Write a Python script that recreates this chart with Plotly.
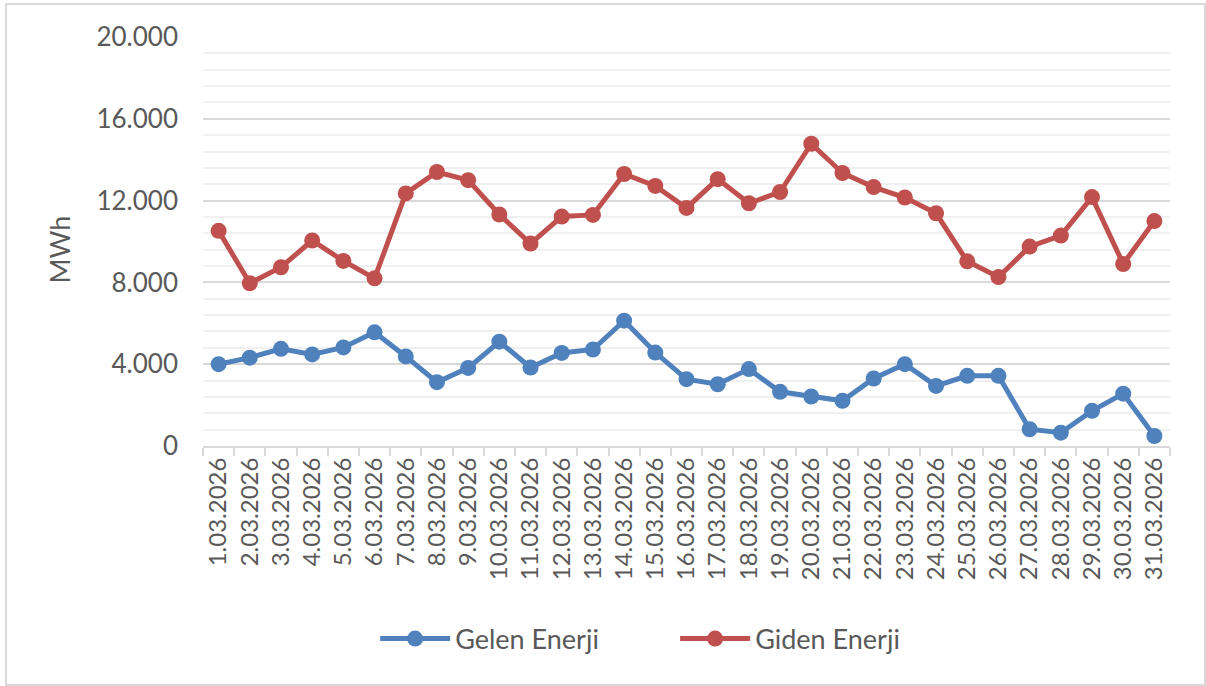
import plotly.graph_objects as go

dates = [f"{d}.03.2026" for d in range(1, 32)]
gelen = [4000, 4320, 4750, 4480, 4820, 5560, 4380, 3120, 3820, 5100, 3840, 4550, 4720,
         6130, 4570, 3270, 3020, 3760, 2650, 2420, 2210, 3300, 4000, 2940, 3430, 3430,
         820, 650, 1720, 2560, 490]
giden = [10520, 7960, 8740, 10050, 9050, 8200, 12350, 13400, 13000, 11320, 9900, 11220, 11300,
         13300, 12720, 11640, 13050, 11870, 12420, 14780, 13350, 12660, 12150, 11380, 9030, 8260,
         9750, 10290, 12170, 8900, 11000]
y_title = "MWh"

BLUE = "#4F81BD"
RED = "#C0504D"
TXT = "#595959"
FONT = "Lato"

fig = go.Figure()
fig.add_trace(go.Scatter(x=dates, y=gelen, name="Gelen Enerji", mode="lines+markers",
                         line=dict(color=BLUE, width=5),
                         marker=dict(color=BLUE, size=16, symbol="circle")))
fig.add_trace(go.Scatter(x=dates, y=giden, name="Giden Enerji", mode="lines+markers",
                         line=dict(color=RED, width=5),
                         marker=dict(color=RED, size=16, symbol="circle")))

fig.update_layout(
    width=1206, height=686,
    margin=dict(l=203, r=36, t=37, b=240, autoexpand=False),
    paper_bgcolor="white", plot_bgcolor="white",
    separators=",.",
    font=dict(family=FONT, color=TXT, size=22),
    showlegend=True,
    legend=dict(orientation="h", x=0.178, xanchor="left", y=-0.472, yanchor="middle",
                font=dict(size=27, color=TXT, family=FONT), itemwidth=70,
                traceorder="normal", entrywidth=215),
    shapes=[dict(type="rect", xref="paper", yref="paper",
                 x0=-0.2037, x1=1.0362, y0=-0.5844, y1=1.0807,
                 line=dict(color="#D9D9D9", width=2), fillcolor="rgba(0,0,0,0)", layer="below")],
    annotations=[dict(text=y_title, xref="paper", yref="paper", x=-0.148, y=0.48,
                      textangle=-90, showarrow=False, xanchor="center", yanchor="middle",
                      font=dict(size=27, color=TXT, family=FONT))],
)

fig.update_xaxes(
    type="category", range=[-0.5, 30.5],
    tickangle=-90, tickfont=dict(size=24, color=TXT, family=FONT),
    showgrid=False, showline=True, linecolor="#D9D9D9", linewidth=2,
    ticks="outside", tickson="boundaries", ticklen=8, tickcolor="#D9D9D9", tickwidth=2,
    zeroline=False,
)
fig.update_yaxes(
    range=[0, 20000], dtick=4000, tickformat=",d",
    tickfont=dict(size=26, color=TXT, family=FONT),
    showgrid=True, gridcolor="#D9D9D9", gridwidth=2,
    minor=dict(dtick=800, showgrid=True, gridcolor="#F0F0F0", gridwidth=2),
    zeroline=False, showline=False, ticks="", ticklabelstandoff=24,
)

fig.write_html("out.html", config={"displayModeBar": False},
               post_script="document.body.style.margin='0';")
